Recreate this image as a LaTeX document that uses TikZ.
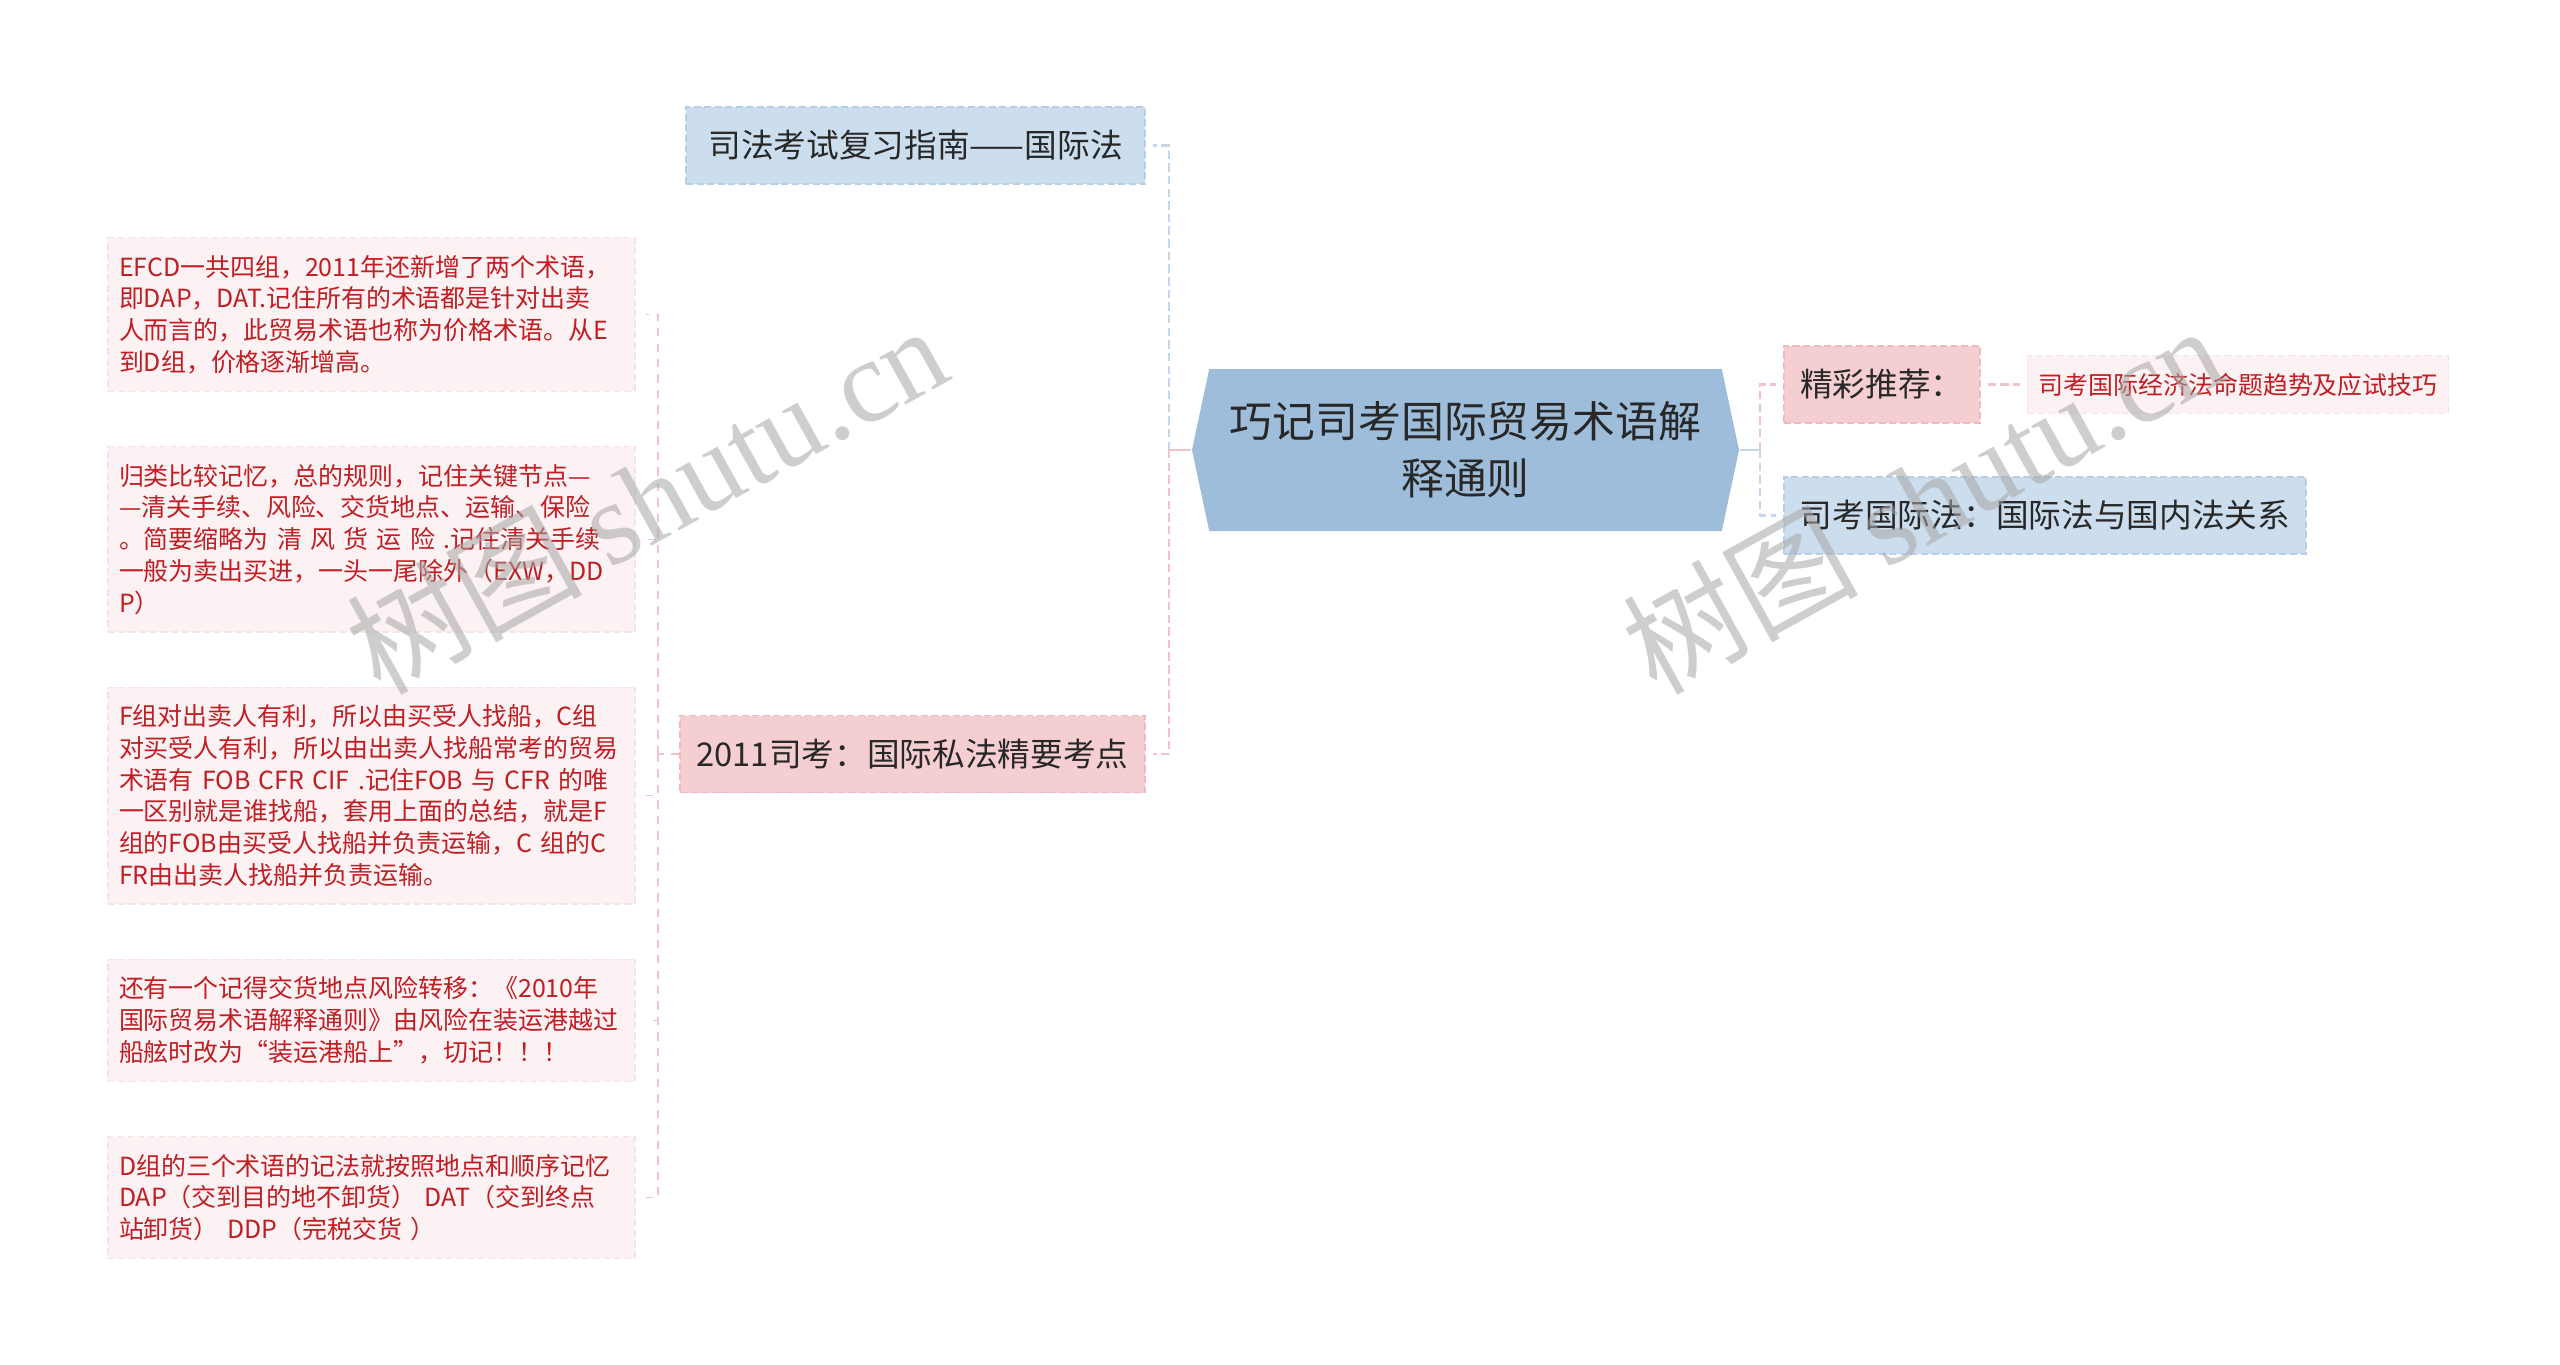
\documentclass[tikz,border=0pt]{standalone}
\usepackage{fontspec}
\setmainfont{Noto Sans CJK SC}
\newfontfamily\wmserif{Liberation Serif}
\usetikzlibrary{positioning,shapes.symbols}
\definecolor{rootfill}{RGB}{158,189,218}
\definecolor{bluefill}{RGB}{204,221,237}
\definecolor{bluedraw}{RGB}{184,206,228}
\definecolor{bluelink}{RGB}{197,215,234}
\definecolor{pinkfill}{RGB}{245,206,209}
\definecolor{pinkdraw}{RGB}{236,186,191}
\definecolor{pinklink}{RGB}{240,196,200}
\definecolor{leaffill}{RGB}{252,242,243}
\definecolor{leafdraw}{RGB}{247,226,228}
\definecolor{leaftext}{RGB}{192,30,36}
\definecolor{maintext}{RGB}{40,40,40}
\begin{document}
\begin{tikzpicture}[
    root/.style={signal, signal to=west and east, signal pointer angle=156,
      fill=rootfill, text=maintext, align=center, inner sep=0pt,
      minimum width=5.47cm, minimum height=1.62cm,
      font=\fontsize{12.2}{16.2}\selectfont},
    topic/.style={draw=#1draw, fill=#1fill, dash pattern=on 2pt off 1pt,
      line width=0.5pt, text=maintext, inner xsep=0.16cm, minimum height=0.77cm,
      font=\fontsize{9.3}{11}\selectfont},
    leaf/.style={draw=leafdraw, fill=leaffill, dash pattern=on 2pt off 1pt,
      line width=0.4pt, text=leaftext, inner xsep=0.11cm, inner ysep=4.9pt,
      font=\fontsize{7.1}{9.05}\selectfont},
    note/.style={leaf, text width=5.05cm, align=left},
    link/.style={draw=#1link, line width=0.8pt, dash pattern=on 2.4pt off 1.2pt, shorten >=2pt},
    stub/.style={draw=#1link, line width=0.8pt},
    leaflink/.style={draw=pinklink, line width=0.45pt, dash pattern=on 2.4pt off 2pt},
    wmark/.style={rotate=29, text=black!35, opacity=0.55, font=\fontsize{33.5}{34}\selectfont}
  ]
  \useasboundingbox (0,0) rectangle (25.6,-13.64);

  \node[root] (root) at (14.655,-4.50) {巧记司考国际贸易术语解\\释通则};

  \node[topic=blue, anchor=east, minimum width=4.59cm] (guide) at (11.46,-1.455) {司法考试复习指南——国际法};
  \node[topic=pink, anchor=east, minimum width=4.65cm] (kaodian) at (11.46,-7.54) {2011司考：国际私法精要考点};
  \node[topic=pink, anchor=west, minimum width=1.96cm] (tuijian) at (17.83,-3.845) {精彩推荐：};
  \node[topic=blue, below=0.52cm of tuijian.south west, anchor=north west, minimum width=5.19cm] (guonei) {司考国际法：国际法与国内法关系};
  \node[leaf, right=0.46cm of tuijian] (jiqiao) {司考国际经济法命题趋势及应试技巧};

  \node[note, anchor=north] (note1) at (3.715,-2.37) {EFCD一共四组，2011年还新增了两个术语，\\即DAP，DAT.记住所有的术语都是针对出卖\\人而言的，此贸易术语也称为价格术语。从E\\到D组，价格逐渐增高。};
  \node[note, below=0.54cm of note1] (note2) {归类比较记忆，总的规则，记住关键节点—\\—清关手续、风险、交货地点、运输、保险\\。简要缩略为 清 风 货 运 险 .记住清关手续\\一般为卖出买进，一头一尾除外（EXW，DD\\P）};
  \node[note, below=0.54cm of note2] (note3) {F组对出卖人有利，所以由买受人找船，C组\\对买受人有利，所以由出卖人找船常考的贸易\\术语有 FOB CFR CIF .记住FOB 与 CFR 的唯\\一区别就是谁找船，套用上面的总结，就是F\\组的FOB由买受人找船并负责运输，C 组的C\\FR由出卖人找船并负责运输。};
  \node[note, below=0.54cm of note3] (note4) {还有一个记得交货地点风险转移：《2010年\\国际贸易术语解释通则》由风险在装运港越过\\船舷时改为“装运港船上”，切记！！！};
  \node[note, below=0.54cm of note4] (note5) {D组的三个术语的记法就按照地点和顺序记忆\\DAP（交到目的地不卸货） DAT（交到终点\\站卸货） DDP（完税交货 ）};

  \coordinate (lhub) at (11.69,-4.50);
  \coordinate (rhub) at (17.60,-4.50);
  \coordinate (nhub) at (6.58,-7.54);

  \draw[link=blue] (lhub) |- (guide.east);
  \draw[link=pink] (lhub) |- (kaodian.east);
  \draw[stub=pink] (root.west) -- (lhub);
  \draw[link=pink] (rhub) |- (tuijian.west);
  \draw[link=blue] (rhub) |- (guonei.west);
  \draw[stub=blue] (root.east) -- (rhub);
  \draw[link=pink, shorten <=2pt] (tuijian.east) -- (jiqiao.west);
  \draw[leaflink] (kaodian.west) -- (nhub);
  \foreach \n in {1,...,5}
    \draw[leaflink, shorten >=3pt] (nhub) |- (note\n.east);

  \foreach \x/\y [count=\i] in {6.46/-4.98, 19.22/-4.98}
    \node[wmark] (wm\i) at (\x,\y) {树图 {\wmserif shutu.cn}};
\end{tikzpicture}
\end{document}
